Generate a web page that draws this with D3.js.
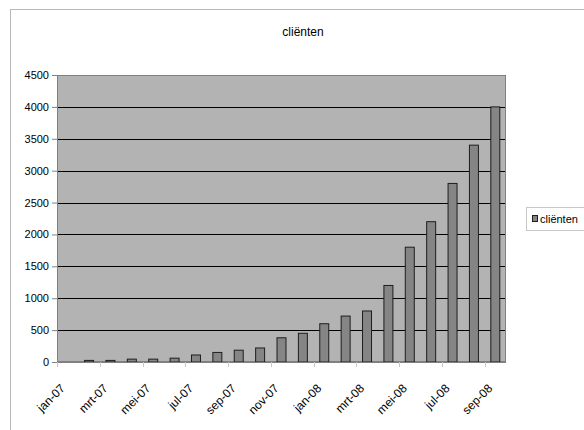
<!DOCTYPE html>
<html>
<head>
<meta charset="utf-8">
<script src="https://cdn.jsdelivr.net/npm/d3@7"></script>
<style>
  html, body { margin: 0; padding: 0; background: #fff; }
  svg { display: block; font-family: "Liberation Sans", Arial, sans-serif; }
</style>
</head>
<body>
<svg id="chart" width="584" height="430"></svg>
<script>
// Monthly client counts
const months = ["jan-07","feb-07","mrt-07","apr-07","mei-07","jun-07","jul-07","aug-07","sep-07","okt-07","nov-07","dec-07",
                "jan-08","feb-08","mrt-08","apr-08","mei-08","jun-08","jul-08","aug-08","sep-08"];
const clients = [0, 25, 25, 45, 45, 60, 110, 150, 185, 220, 380, 450,
                 600, 720, 800, 1200, 1800, 2200, 2800, 3400, 4000];
const yTicks = [0, 500, 1000, 1500, 2000, 2500, 3000, 3500, 4000, 4500];
const seriesName = "cliënten";
const chartTitle = "cliënten";

const svg = d3.select("#chart");
const plot = { left: 57, right: 506, top: 75, bottom: 362 };

// outer chart frame (runs past the window edges)
svg.append("rect")
  .attr("x", 10.5).attr("y", 9.5).attr("width", 620).attr("height", 460)
  .attr("fill", "#fff").attr("stroke", "#b8b8b8").attr("stroke-width", 1);

const x = d3.scaleBand().domain(months).range([plot.left, plot.right]).padding(0);
const y = d3.scaleLinear().domain([0, 4500]).range([plot.bottom, plot.top]);

// plot background
svg.append("rect")
  .attr("x", plot.left).attr("y", plot.top)
  .attr("width", plot.right - plot.left).attr("height", plot.bottom - plot.top)
  .attr("fill", "#b3b3b3");

// gridlines
svg.append("g")
  .selectAll("line")
  .data(yTicks.filter(d => d > 0 && d < 4500))
  .join("line")
  .attr("x1", plot.left).attr("x2", plot.right)
  .attr("y1", d => Math.round(y(d)) + 0.5).attr("y2", d => Math.round(y(d)) + 0.5)
  .attr("stroke", "#000").attr("stroke-width", 1);

// plot border
svg.append("rect")
  .attr("x", plot.left + 0.5).attr("y", plot.top + 0.5)
  .attr("width", plot.right - plot.left - 1).attr("height", plot.bottom - plot.top - 1)
  .attr("fill", "none").attr("stroke", "#808080").attr("stroke-width", 1);

// bars
const barW = x.bandwidth() * 0.42;
svg.append("g")
  .selectAll("rect")
  .data(months.map((m, i) => ({ m, v: clients[i] })).filter(d => d.v > 0))
  .join("rect")
  .attr("x", d => x(d.m) + (x.bandwidth() - barW) / 2)
  .attr("y", d => y(d.v))
  .attr("width", barW)
  .attr("height", d => y(0) - y(d.v))
  .attr("fill", "#858585")
  .attr("stroke", "#1e1e1e").attr("stroke-width", 1);

// y axis
const yAxis = d3.axisLeft(y).tickValues(yTicks).tickSize(5).tickPadding(3).tickFormat(d3.format("d"));
const gy = svg.append("g").attr("transform", `translate(${plot.left},0)`).call(yAxis);
gy.select(".domain").attr("stroke", "#808080");
gy.selectAll(".tick line").attr("stroke", "#808080");
gy.selectAll(".tick text").attr("font-size", 11).attr("fill", "#000")
  .attr("font-family", "'Liberation Sans', Arial, sans-serif");

// x axis: ticks between every second category, labels on those categories
const xg = svg.append("g");
const labelled = months.filter((m, i) => i % 2 === 0);
xg.append("line")
  .attr("x1", plot.left).attr("x2", plot.right)
  .attr("y1", plot.bottom + 0.5).attr("y2", plot.bottom + 0.5)
  .attr("stroke", "#808080");
xg.selectAll("line.tk")
  .data(labelled)
  .join("line").attr("class", "tk")
  .attr("x1", d => Math.round(x(d)) + 0.5).attr("x2", d => Math.round(x(d)) + 0.5)
  .attr("y1", plot.bottom).attr("y2", plot.bottom + 5)
  .attr("stroke", "#c8c8c8");
xg.selectAll("text")
  .data(labelled)
  .join("text")
  .attr("transform", d => `translate(${x(d) + x.bandwidth() / 2 - 2},${plot.bottom + 27}) rotate(-45)`)
  .attr("text-anchor", "end")
  .attr("font-size", 12)
  .attr("fill", "#000")
  .text(d => d);

// title
svg.append("text")
  .attr("x", 303).attr("y", 36)
  .attr("text-anchor", "middle")
  .attr("font-size", 12)
  .text(chartTitle);

// legend
const lg = svg.append("g");
lg.append("rect")
  .attr("x", 526.5).attr("y", 207.5).attr("width", 80).attr("height", 23)
  .attr("fill", "#fff").attr("stroke", "#c8c8c8");
lg.append("rect")
  .attr("x", 532.5).attr("y", 215.5).attr("width", 5).attr("height", 6)
  .attr("fill", "#858585").attr("stroke", "#1e1e1e");
lg.append("text")
  .attr("x", 540).attr("y", 223)
  .attr("font-size", 11)
  .text(seriesName);
</script>
</body>
</html>
